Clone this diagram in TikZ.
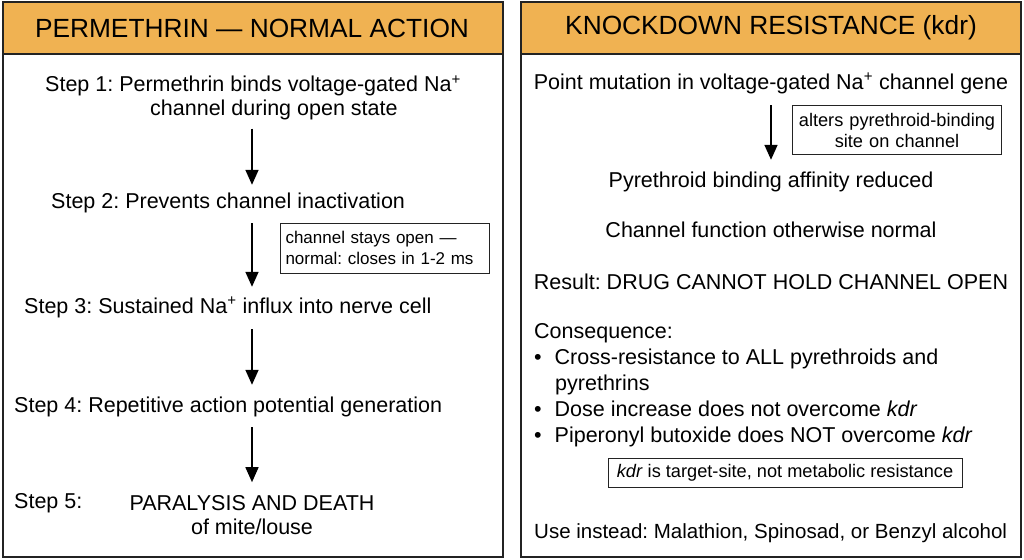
\documentclass[tikz,border=0pt]{standalone}
\usepackage{fontspec}
\setmainfont{Liberation Sans}
\usetikzlibrary{arrows.meta}
\frenchspacing
\definecolor{headfill}{RGB}{240,178,82}
\definecolor{framegray}{RGB}{35,35,35}
\tikzset{
  panelframe/.style={draw=framegray,line width=1.5pt},
  headbar/.style={draw=framegray,line width=1.5pt,fill=headfill},
  headtext/.style={font=\fontsize{26.3}{30}\selectfont,inner sep=0pt},
  body/.style={font=\fontsize{21.5}{24}\selectfont,inner sep=0pt,text height=15.5pt,text depth=4.5pt},
  multi/.style={text height=,text depth=},
  notebox/.style={draw=framegray,line width=1pt,font=\fontsize{18.2}{21}\selectfont,inner xsep=5pt,inner ysep=0pt},
  flow/.style={-{Triangle[length=15pt,width=13pt]},line width=1.6pt}
}
\begin{document}
\begin{tikzpicture}[x=1pt,y=-1pt]
\useasboundingbox (0,0) rectangle (1024,559);
\fill[white] (0,0) rectangle (1024,559);
\draw[headbar] (3,2) rectangle (503,54);
\draw[panelframe] (3,2) rectangle (503,557);
\draw[headbar] (521,2) rectangle (1021,54);
\draw[panelframe] (521,2) rectangle (1021,557);
\node[headtext] (lhead) at (252,28) {PERMETHRIN — NORMAL ACTION};
\node[headtext] (rhead) at (771,28) {KNOCKDOWN RESISTANCE (kdr)};

\coordinate (lx) at (252,0);
\node[body,multi,anchor=west,align=left] (s1) at (45,98)
  {Step 1: Permethrin binds voltage-gated Na\textsuperscript{+}\\\hspace{105pt}channel during open state};
\node[body,anchor=west] (s2) at (51,203) {Step 2: Prevents channel inactivation};
\node[body,anchor=west] (s3) at (24,308) {Step 3: Sustained Na\textsuperscript{+} influx into nerve cell};
\node[body,anchor=west] (s4) at (14,407) {Step 4: Repetitive action potential generation};
\node[body,anchor=west] (s5) at (14,503) {Step 5:};
\node[body,multi,align=center] (s5t) at (252,515) {PARALYSIS AND DEATH\\of mite/louse};
\node[notebox,anchor=west,align=left,text width=199pt,minimum height=50pt,font=\fontsize{17}{21}\selectfont] (n1) at (280,248)
  {channel stays open —\\normal: closes in 1-2 ms};
\draw[flow] ([yshift=-8pt]s1.south -| lx) -- ([yshift=8pt]s2.north -| lx);
\draw[flow] ([yshift=-10pt]s2.south -| lx) -- ([yshift=11pt]s3.north -| lx);
\draw[flow] ([yshift=-11pt]s3.south -| lx) -- ([yshift=12pt]s4.north -| lx);
\draw[flow] ([yshift=-10pt]s4.south -| lx) -- ([yshift=13pt]s5t.north -| lx);

\coordinate (rx) at (771,0);
\node[body] (r1) at (771,84) {Point mutation in voltage-gated Na\textsuperscript{+} channel gene};
\node[notebox,align=center,text width=199pt,minimum height=49pt] (n2) at (897,130)
  {alters pyrethroid-binding\\site on channel};
\node[body] (r2) at (771,182) {Pyrethroid binding affinity reduced};
\node[body] (r3) at (771,232) {Channel function otherwise normal};
\node[body] (r4) at (771,284) {Result: DRUG CANNOT HOLD CHANNEL OPEN};
\node[body,anchor=west] (r5) at (534,333) {Consequence:};
\node[body,anchor=west] (b1) at (534,359) {•\hspace{13pt}Cross-resistance to ALL pyrethroids and};
\node[body,anchor=west] (b1b) at (555,385) {pyrethrins};
\node[body,anchor=west] (b2) at (534,411) {•\hspace{13pt}Dose increase does not overcome \textit{kdr}};
\node[body,anchor=west] (b3) at (534,437) {•\hspace{13pt}Piperonyl butoxide does NOT overcome \textit{kdr}};
\node[notebox,minimum width=354pt,minimum height=29pt] (n3) at (785,473)
  {\textit{kdr} is target-site, not metabolic resistance};
\node[body,anchor=west,font=\fontsize{20.5}{24}\selectfont] (r6) at (534,533) {Use instead: Malathion, Spinosad, or Benzyl alcohol};
\draw[flow] ([yshift=-11pt]r1.south -| rx) -- ([yshift=12pt]r2.north -| rx);
\end{tikzpicture}
\end{document}
